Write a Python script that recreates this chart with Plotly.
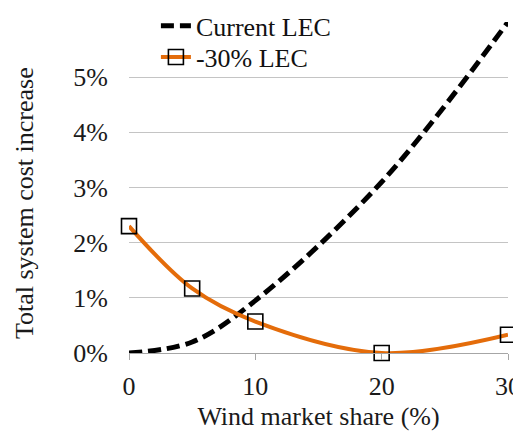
import plotly.graph_objects as go

# wind market share (%)
share = [0, 5, 10, 20, 30]
# total system cost increase (fraction)
current_lec = [0.0, 0.002, 0.0095, 0.031, 0.060]
lec_minus30 = [0.023, 0.0117, 0.0057, 0.0, 0.0033]
y_ticks = [0, 0.01, 0.02, 0.03, 0.04, 0.05]

font = "Liberation Serif"

# the page body has an 8px margin, so the figure is sized to fit the window
W, H = 513, 423

fig = go.Figure()

fig.add_trace(go.Scatter(
    x=share, y=current_lec, name="Current LEC", mode="lines",
    line=dict(color="black", width=5, dash="13px,6px", shape="spline"),
    cliponaxis=False, showlegend=True, legend="legend"))

fig.add_trace(go.Scatter(
    x=share, y=lec_minus30, name="-30% LEC", mode="lines+markers",
    line=dict(color="#E46C0A", width=4, shape="spline"),
    marker=dict(symbol="square-open", color="black", size=15, line=dict(width=1.6)),
    cliponaxis=False, showlegend=True, legend="legend2"))

leg = dict(x=0.071, xanchor="left", yanchor="middle", visible=True,
           bgcolor="rgba(0,0,0,0)", font=dict(size=26, color="#111"))

fig.update_layout(
    width=W, height=H,
    margin=dict(l=121, r=13, t=14, b=78, autoexpand=False),
    paper_bgcolor="white", plot_bgcolor="white",
    showlegend=True,
    font=dict(family=font, size=26, color="#1a1a1a"),
    legend=dict(leg, y=0.988),
    legend2=dict(leg, y=0.894),
    xaxis=dict(range=[0, 30], tickvals=[0, 10, 20, 30], showgrid=False,
               showline=True, linecolor="#a6a6a6", linewidth=1,
               ticks="outside", ticklen=6, tickcolor="#a6a6a6",
               zeroline=False, ticklabelstandoff=4,
               title=dict(text="Wind market share (%)", standoff=11,
                          font=dict(size=26))),
    yaxis=dict(range=[0, 0.06], tickvals=y_ticks, tickformat=".0%",
               showgrid=True, gridcolor="#c4c4c4", gridwidth=1,
               zeroline=False, showline=False, ticks="", ticklabelstandoff=20),
    annotations=[dict(text="Total system cost increase", textangle=-90,
                      xref="paper", yref="paper", x=-0.277, y=0.453,
                      xanchor="center", yanchor="middle", showarrow=False,
                      font=dict(size=26, color="#1a1a1a"))],
)

fig.write_html("out.html")
